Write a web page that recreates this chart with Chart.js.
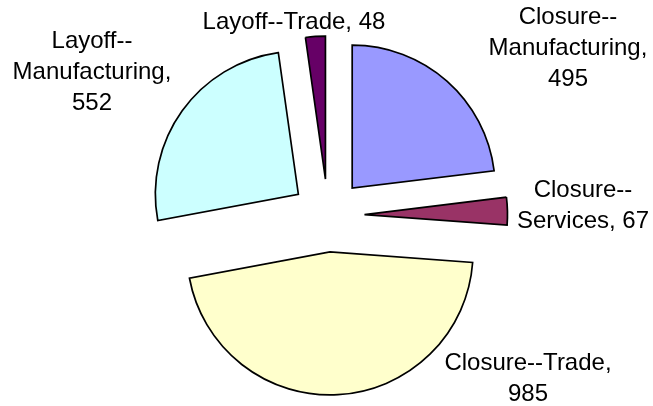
<!DOCTYPE html>
<html>
<head>
<meta charset="utf-8">
<script src="https://cdn.jsdelivr.net/npm/chart.js@4"></script>
<style>
  html, body { margin: 0; padding: 0; background: #fff; }
  #wrap { width: 653px; height: 406px; }
</style>
</head>
<body>
<div id="wrap"><canvas id="pie" width="653" height="406"></canvas></div>
<script>
// data
const categories = ['Closure--Manufacturing', 'Closure--Services', 'Closure--Trade', 'Layoff--Manufacturing', 'Layoff--Trade'];
const counts = [495, 67, 985, 552, 48];
const colors = ['#9999FF', '#993366', '#FFFFCC', '#CCFFFF', '#660066'];

// how excel wrapped each label (where to break "name, value")
const labelLines = [
  ['Closure--', 'Manufacturing,', String(counts[0])],
  ['Closure--', 'Services, ' + counts[1]],
  ['Closure--Trade,', String(counts[2])],
  ['Layoff--', 'Manufacturing,', String(counts[3])],
  ['Layoff--Trade, ' + counts[4]]
];
// label anchor (first baseline) relative to pie centre
const labelOffsets = [[240, -191.5], [255, -18.5], [200, 154.5], [-236, -167.5], [-34, -186.5]];

const explode = 36.5;

const explodePlugin = {
  id: 'explode',
  beforeDatasetDraw(chart, args) {
    const ctx = chart.ctx;
    args.meta.data.forEach(arc => {
      const mid = (arc.startAngle + arc.endAngle) / 2;
      ctx.save();
      ctx.translate(Math.cos(mid) * explode, Math.sin(mid) * explode);
      arc.draw(ctx);
      ctx.restore();
    });
    return false;
  }
};

const labelPlugin = {
  id: 'sliceLabels',
  afterDatasetsDraw(chart) {
    const ctx = chart.ctx;
    const arcs = chart.getDatasetMeta(0).data;
    ctx.save();
    ctx.font = '24px "Liberation Sans", Arial, sans-serif';
    ctx.fillStyle = '#000';
    ctx.textAlign = 'center';
    ctx.textBaseline = 'alphabetic';
    arcs.forEach((arc, i) => {
      const x = arc.x + labelOffsets[i][0];
      let y = arc.y + labelOffsets[i][1];
      labelLines[i].forEach(line => {
        ctx.fillText(line, x, y);
        y += 31;
      });
    });
    ctx.restore();
  }
};

new Chart(document.getElementById('pie'), {
  type: 'pie',
  data: {
    labels: categories,
    datasets: [{
      data: counts,
      backgroundColor: colors,
      borderColor: '#000',
      borderWidth: 1.7,
      borderJoinStyle: 'miter'
    }]
  },
  options: {
    responsive: false,
    animation: false,
    radius: 143,
    layout: { padding: { left: 3, right: 0, top: 25, bottom: 0 } },
    plugins: {
      legend: { display: false },
      tooltip: { enabled: false }
    }
  },
  plugins: [explodePlugin, labelPlugin]
});
</script>
</body>
</html>
